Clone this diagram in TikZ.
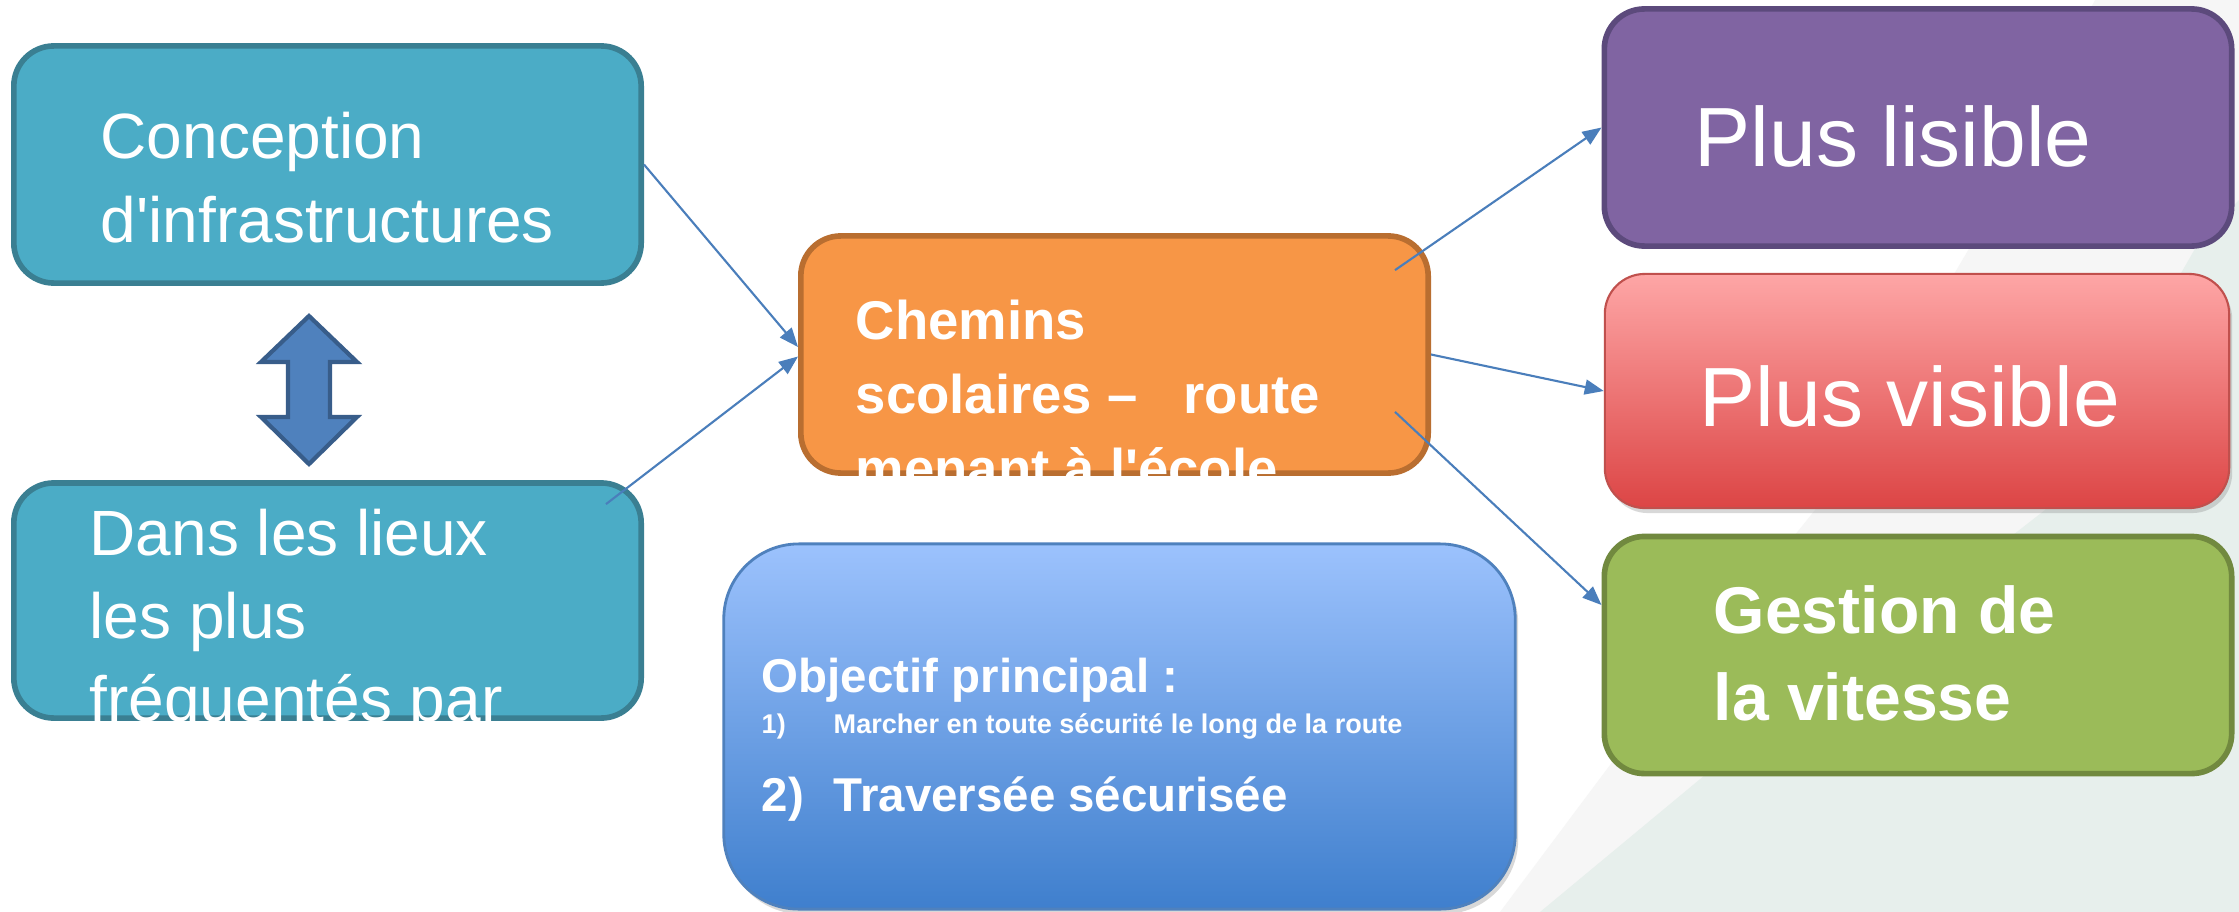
\documentclass[tikz,border=0pt]{standalone}
\usepackage{fontspec}
\setmainfont{Liberation Sans}
\usetikzlibrary{arrows.meta,calc,shadows}

\definecolor{tealfill}{HTML}{4BACC6}
\definecolor{tealline}{HTML}{3A7F92}
\definecolor{orangefill}{HTML}{F79646}
\definecolor{orangeline}{HTML}{B96E30}
\definecolor{purplefill}{HTML}{8064A2}
\definecolor{purpleline}{HTML}{5C4A7C}
\definecolor{greenfill}{HTML}{9BBB59}
\definecolor{greenline}{HTML}{71893F}
\definecolor{redtop}{HTML}{FEA6A6}
\definecolor{redmid}{HTML}{F68686}
\definecolor{redbottom}{HTML}{DC4545}
\definecolor{redline}{HTML}{C0504D}
\definecolor{bluetop}{HTML}{9CC2FD}
\definecolor{bluebottom}{HTML}{3F7FCD}
\definecolor{blueline}{HTML}{4F81BD}
\definecolor{arrowfill}{HTML}{4F81BD}
\definecolor{arrowline}{HTML}{385D8A}
\definecolor{linkblue}{HTML}{4A7EBB}
\definecolor{bggrey}{HTML}{F6F6F6}
\definecolor{bggreen}{HTML}{E7EFEC}

\begin{document}
\begin{tikzpicture}[
    x=0.01cm, y=-0.01cm,
    box/.style={rounded corners=0.4cm, line width=1.6pt, minimum width=6.27cm, minimum height=2.37cm, inner sep=0pt},
    tealbox/.style={box, fill=tealfill, draw=tealline},
    orangebox/.style={box, fill=orangefill, draw=orangeline},
    purplebox/.style={box, fill=purplefill, draw=purpleline},
    greenbox/.style={box, fill=greenfill, draw=greenline},
    redbox/.style={box, line width=0.6pt, draw=redline, top color=redtop, middle color=redmid, bottom color=redbottom,
        drop shadow={opacity=0.3, shadow xshift=0.03cm, shadow yshift=-0.05cm}},
    goalbox/.style={rounded corners=0.75cm, line width=0.8pt, draw=blueline, top color=bluetop, bottom color=bluebottom,
        minimum width=7.91cm, minimum height=3.65cm, inner sep=0pt,
        drop shadow={opacity=0.3, shadow xshift=0.03cm, shadow yshift=-0.05cm}},
    txt/.style={anchor=base west, inner sep=0pt, text=white},
    plain/.style={txt, font=\fontsize{18.2pt}{24pt}\selectfont},
    boldtxt/.style={txt, font=\fontsize{15.5pt}{20pt}\selectfont\bfseries},
    bigtxt/.style={txt, font=\fontsize{23.9pt}{28pt}\selectfont},
    speedtxt/.style={txt, font=\fontsize{18.8pt}{24pt}\selectfont\bfseries},
    goaltxt/.style={txt, font=\fontsize{13.5pt}{16pt}\selectfont\bfseries},
    smalltxt/.style={txt, font=\fontsize{7.7pt}{9pt}\selectfont\bfseries},
    link/.style={draw=linkblue, line width=0.6pt, -{Triangle[length=0.19cm, width=0.15cm]}},
    dblarrow/.style={fill=arrowfill, draw=arrowline, line width=1.2pt, line join=miter},
]

% Background
\useasboundingbox (0,0) rectangle (2239,912);
\fill[white] (0,0) rectangle (2239,912);
\fill[bggrey] (2095,0) -- (2239,0) -- (2239,912) -- (1500,912) -- (1610,765) -- (1815,510) -- (1970,247) -- cycle;
\fill[bggreen] (2200,240) -- (2239,200) -- (2239,912) -- (1540,912) -- (1705,775) -- (2045,510) -- cycle;

% Boxes
\node[tealbox] (infra) at (327.5,164.5) {};
\node[tealbox, minimum height=2.35cm] (lieux) at (327.5,600.5) {};
\node[orangebox] (chemins) at (1114.5,354.5) {};
\node[goalbox] (objectif) at (1119.5,726.5) {};
\node[purplebox] (lisible) at (1918,127.5) {};
\node[redbox, minimum width=6.24cm, minimum height=2.34cm] (visible) at (1917,391) {};
\node[greenbox] (vitesse) at (1918,655) {};

% Double arrow
\draw[dblarrow] (309,316) -- (357,362) -- (330,362) -- (330,417) -- (357,417) -- (309,464)
    -- (261,417) -- (288,417) -- (288,362) -- (261,362) -- cycle;

% Connectors
\draw[link] (infra.east) -- ($(chemins.west)+(0,-7.5)$);
\draw[link] ($(lieux.north east)+(-38,24)$) -- ($(chemins.west)+(0,2)$);
\draw[link] ($(chemins.north east)+(-36,37)$) -- (lisible.west);
\draw[link] (chemins.east) -- (visible.west);
\draw[link] ($(chemins.south east)+(-36,-64)$) -- ($(vitesse.west)+(0,-50)$);

% Texts
\node[plain] (infra1) at (100,158) {Conception};
\node[plain] (infra2) at (100,242) {d\textquotesingle infrastructures};

\node[plain] (lieux1) at (89,555) {Dans les lieux};
\node[plain] (lieux2) at (89,638) {les plus};
\node[plain] (lieux3) at (89,721) {fréquentés par};

\node[boldtxt] (chemins1) at (855,339) {Chemins};
\node[boldtxt] (chemins2) at (855,413) {scolaires –\hspace{0.85em}route};
\node[boldtxt] (chemins3) at (855,487) {menant à l\textquotesingle école};

\node[bigtxt] (lisible1) at (1694,166) {Plus lisible};
\node[bigtxt] (visible1) at (1699,426) {Plus visible};

\node[speedtxt] (vitesse1) at (1713,633) {Gestion de};
\node[speedtxt] (vitesse2) at (1713,720) {la vitesse};

\node[goaltxt] (objectif1) at (761,692) {Objectif principal :};
\node[smalltxt] (objectif2) at (761,733) {\makebox[0.72cm][l]{1)}Marcher en toute sécurité le long de la route};
\node[goaltxt] (objectif3) at (761,811) {\makebox[0.72cm][l]{2)}Traversée sécurisée};

\end{tikzpicture}
\end{document}
